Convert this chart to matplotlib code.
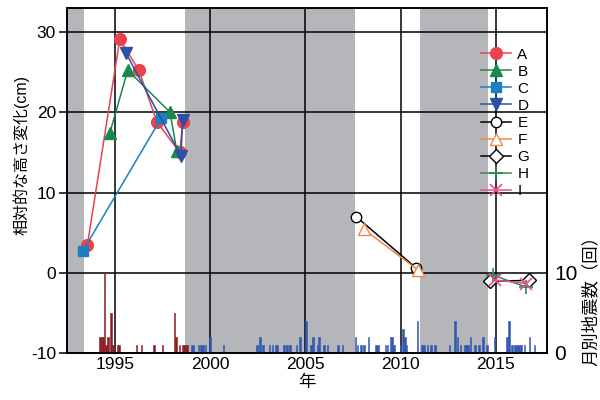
import numpy as np
import matplotlib
matplotlib.use('Agg')
import matplotlib.pyplot as plt

plt.rcParams['font.family'] = ['Liberation Sans', 'Noto Sans CJK JP']
plt.rcParams['axes.unicode_minus'] = False

# relative height change (cm), x = decimal year
A_x = [1993.55, 1995.25, 1996.25, 1997.2, 1998.4, 1998.55]
A_y = [3.5, 29.1, 25.25, 18.8, 15.0, 18.8]
B_x = [1994.73, 1995.67, 1997.89, 1998.24]
B_y = [17.45, 25.25, 20.0, 15.2]
C_x = [1993.32, 1997.43]
C_y = [2.75, 19.3]
D_x = [1995.56, 1998.46, 1998.55]
D_y = [27.45, 14.6, 19.0]
E_x = [2007.66, 2010.8]
E_y = [7.0, 0.6]
F_x = [2008.05, 2010.9]
F_y = [5.45, 0.35]
G_x = [2014.7, 2016.75]
G_y = [-1.05, -0.95]
H_x = [2014.85, 2016.6]
H_y = [-0.3, -1.8]
I_x = [2014.95, 2016.6]
I_y = [-0.9, -1.35]

# gray periods
periods = [(1992.4, 1993.37), (1998.67, 2007.6), (2011.0, 2014.6)]

# monthly earthquake counts (month centre, count)
eq_red_t = [1994.21, 1994.29, 1994.37, 1994.45, 1994.54, 1994.62, 1994.79, 1994.88,
            1995.13, 1995.21, 1996.13, 1996.38, 1997.04, 1997.5, 1998.13, 1998.21,
            1998.38, 1998.54, 1998.63, 1998.71, 1998.79]
eq_red_n = [2, 2, 2, 10, 1, 2, 5, 1,
            1, 1, 1, 1, 1, 1, 5, 2,
            1, 1, 1, 1, 1]
eq_blue_t = [1999.04, 1999.13, 1999.38, 1999.5, 1999.63, 1999.75, 2000.0, 2000.7,
             2002.45, 2002.6, 2002.77, 2003.1, 2003.27, 2003.44, 2003.52, 2003.86,
             2004.03, 2004.18, 2004.52, 2004.7, 2005.02, 2005.28, 2005.38, 2005.62,
             2005.71, 2005.97, 2006.15, 2006.7, 2006.95, 2007.63, 2007.73, 2007.9,
             2008.07, 2008.3, 2008.7, 2008.8, 2009.21, 2009.3, 2009.47, 2009.55,
             2009.65, 2009.98, 2010.12, 2010.21, 2010.3, 2010.88, 2011.09, 2011.17,
             2011.25, 2011.4, 2011.58, 2011.79, 2012.57, 2012.84, 2012.98, 2013.14,
             2013.38, 2013.46, 2013.54, 2013.66, 2013.9, 2014.1, 2014.32, 2014.53,
             2014.92, 2015.58, 2015.67, 2015.83, 2015.97, 2016.05, 2016.14, 2016.22,
             2016.31, 2016.49, 2016.76, 2017.02]
eq_blue_n = [1, 1, 1, 1, 1, 1, 2, 1,
             1, 2, 1, 1, 1, 1, 1, 1,
             1, 1, 1, 2, 4, 1, 2, 1,
             2, 1, 1, 1, 1, 2, 1, 1,
             1, 2, 1, 1, 1, 1, 2, 2,
             1, 1, 3, 2, 1, 4, 1, 1,
             1, 1, 1, 1, 1, 4, 2, 1,
             1, 1, 1, 2, 1, 1, 2, 1,
             2, 2, 4, 1, 1, 1, 1, 1,
             1, 1, 2, 1]

fig = plt.figure(figsize=(6, 4), dpi=100)
ax1 = fig.add_axes([0.1117, 0.1175, 0.8, 0.8625])

ax1.set_xlim(1992.48, 2017.68)
ax1.set_ylim(-10, 33)

for a, b in periods:
    ax1.axvspan(a, b, color='#b5b6b9', lw=0, zorder=0)

ax1.set_xticks([1995, 2000, 2005, 2010, 2015])
ax1.set_yticks([-10, 0, 10, 20, 30])
ax1.grid(True, color='black', lw=1.1, zorder=1)
ax1.set_axisbelow(True)
ax1.tick_params(axis='y', direction='out', length=6, width=1.1, labelsize=12.5, pad=2)
ax1.tick_params(axis='x', direction='out', length=0, labelsize=12.5, pad=3)
for sp in ax1.spines.values():
    sp.set_linewidth(1.2)

lw = 1.1
ax1.plot(A_x, A_y, '-o', color='#e9434d', lw=lw, ms=8.5, label='A', zorder=3)
ax1.plot(B_x, B_y, '-^', color='#17894b', lw=lw, ms=8.5, label='B', zorder=3)
ax1.plot(C_x, C_y, '-s', color='#1a80c2', lw=lw, ms=7.5, label='C', zorder=3)
ax1.plot(D_x, D_y, '-v', color='#2c50a6', lw=lw, ms=8.5, label='D', zorder=3)
ax1.plot(E_x, E_y, '-o', color='black', mfc='white', lw=lw, ms=7.5, label='E', zorder=3)
ax1.plot(F_x, F_y, '-^', color='#f0874a', mfc='white', lw=lw, ms=8.5, label='F', zorder=3)
ax1.plot(G_x, G_y, '-D', color='black', mfc='white', lw=lw, ms=7, label='G', zorder=3)
ax1.plot(H_x, H_y, '-+', color='#2a8a52', lw=lw, ms=10, mew=1.2, label='H', zorder=3)
ax1.plot(I_x, I_y, '-x', color='#e8508c', lw=lw, ms=8, mew=1.2, label='I', zorder=3)

ax1.set_xlabel('年', fontsize=12.5, labelpad=2)
ax1.set_ylabel('相対的な高さ変化(cm)', fontsize=11.5)
ax1.yaxis.set_label_coords(-0.079, 0.574)

ax1.legend(loc='upper left', bbox_to_anchor=(0.862, 0.885), frameon=False,
           fontsize=11, labelspacing=0.2, handlelength=2.0, handletextpad=0.4,
           borderpad=0, borderaxespad=0)

ax2 = ax1.twinx()
ax2.set_ylim(0, 43)
ax2.set_yticks([0, 10])
w = 1 / 12
ax2.bar(eq_red_t, eq_red_n, width=w, color='#8b1e24', edgecolor='#8b1e24', lw=0.4)
ax2.bar(eq_blue_t, eq_blue_n, width=w, color='#3357b0', edgecolor='#3357b0', lw=0.4)
ax2.tick_params(axis='y', length=0, labelsize=15, pad=5)
ax2.set_ylabel('月別地震数（回）', fontsize=12.5)
ax2.yaxis.set_label_coords(1.073, 0.165)
for sp in ax2.spines.values():
    sp.set_linewidth(1.2)

plt.savefig('out.png', dpi=100)
